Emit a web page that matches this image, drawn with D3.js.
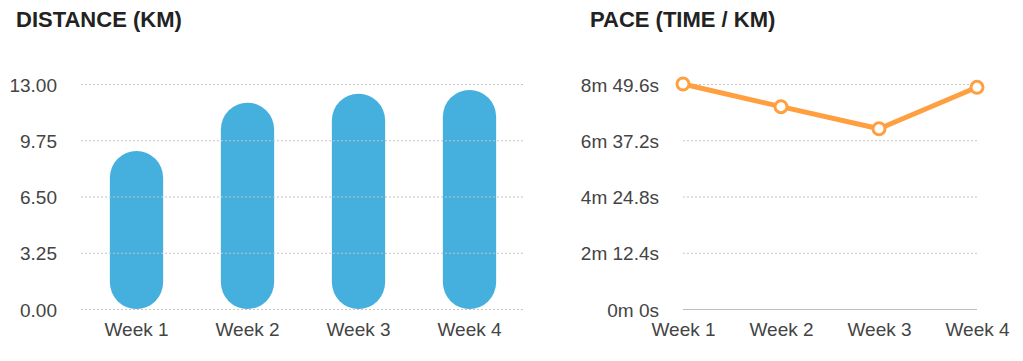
<!DOCTYPE html>
<html><head><meta charset="utf-8">
<script src="https://cdn.jsdelivr.net/npm/d3@7"></script>
<style>
html,body{margin:0;padding:0;background:#fff;}
svg{display:block;font-family:"Liberation Sans",Arial,Helvetica,sans-serif;}
</style></head>
<body>
<svg id="chart" width="1023" height="361"></svg>
<script>
const weeks = ["Week 1", "Week 2", "Week 3", "Week 4"];
const distanceKm = [9.13, 11.92, 12.44, 12.65];
const distanceTicks = [0, 3.25, 6.5, 9.75, 13];
const paceSeconds = [529.6, 476.2, 424.4, 521.8];
const paceTicks = [0, 132.4, 264.8, 397.2, 529.6];
const titles = ["DISTANCE (KM)", "PACE (TIME / KM)"];

const svg = d3.select("#chart");
const plotTop = 84, plotBottom = 309;
const tickFont = 19;

// ---------- Distance chart ----------
const g1 = svg.append("g");
g1.append("text").attr("x", 16).attr("y", 27).attr("font-size", 22).attr("font-weight", "bold")
  .attr("fill", "#222").text(titles[0]);

const x1 = d3.scaleBand().domain(weeks).range([81, 525]).paddingInner(0.52).paddingOuter(0.26);
const y1 = d3.scaleLinear().domain([0, 13]).range([plotBottom, plotTop]);

// bars
const bw = x1.bandwidth();
g1.selectAll("rect.bar").data(weeks).join("rect").attr("class", "bar")
  .attr("x", d => x1(d)).attr("width", bw)
  .attr("y", (d, i) => y1(distanceKm[i]))
  .attr("height", (d, i) => y1(0) - y1(distanceKm[i]))
  .attr("rx", bw / 2).attr("ry", bw / 2)
  .attr("fill", "#45b0de");

// grid on top
const yAxis1 = d3.axisLeft(y1).tickValues(distanceTicks).tickFormat(d3.format(".2f")).tickSize(0).tickPadding(0);
const ga1 = g1.append("g").attr("transform", "translate(57,0)").call(yAxis1);
ga1.select(".domain").remove();
ga1.selectAll("text").attr("font-size", tickFont).attr("fill", "#444").attr("font-family", null).attr("dy", "0.38em");
g1.selectAll("line.grid").data(distanceTicks).join("line").attr("class", "grid")
  .attr("x1", 81).attr("x2", 525).attr("y1", d => y1(d) + 0.5).attr("y2", d => y1(d) + 0.5)
  .attr("stroke", "#c4c4c4").attr("stroke-width", 1).attr("stroke-dasharray", "2,2");

const xAxis1 = d3.axisBottom(x1).tickSize(0).tickPadding(0);
const gx1 = g1.append("g").attr("transform", `translate(0,${plotBottom})`).call(xAxis1);
gx1.select(".domain").remove();
gx1.selectAll("text").attr("font-size", tickFont).attr("fill", "#444").attr("y", 27).attr("dy", 0).attr("font-family", null);

// ---------- Pace chart ----------
const g2 = svg.append("g");
g2.append("text").attr("x", 590).attr("y", 27).attr("font-size", 22).attr("font-weight", "bold")
  .attr("fill", "#222").text(titles[1]);

const x2 = d3.scalePoint().domain(weeks).range([683, 977]);
const y2 = d3.scaleLinear().domain([0, 529.6]).range([plotBottom, plotTop]);
const fmtPace = s => {
  const m = Math.floor(s / 60 + 1e-9);
  const sec = Math.round((s - m * 60) * 10) / 10;
  return `${m}m ${sec}s`;
};
const yAxis2 = d3.axisLeft(y2).tickValues(paceTicks).tickFormat(fmtPace).tickSize(0).tickPadding(0);
const ga2 = g2.append("g").attr("transform", "translate(659,0)").call(yAxis2);
ga2.select(".domain").remove();
ga2.selectAll("text").attr("font-size", tickFont).attr("fill", "#444").attr("font-family", null).attr("dy", "0.38em");

g2.selectAll("line.grid").data(paceTicks).join("line").attr("class", "grid")
  .attr("x1", 683).attr("x2", 977).attr("y1", d => y2(d) + 0.5).attr("y2", d => y2(d) + 0.5)
  .attr("stroke", d => d === 0 ? "#bdbdbd" : "#c4c4c4").attr("stroke-width", 1)
  .attr("stroke-dasharray", d => d === 0 ? null : "2,2");

const xAxis2 = d3.axisBottom(x2).tickSize(0).tickPadding(0);
const gx2 = g2.append("g").attr("transform", `translate(0,${plotBottom})`).call(xAxis2);
gx2.select(".domain").remove();
gx2.selectAll("text").attr("font-size", tickFont).attr("fill", "#444").attr("y", 27).attr("dy", 0).attr("font-family", null);

const line = d3.line().x((d, i) => x2(weeks[i])).y(d => y2(d));
g2.append("path").datum(paceSeconds).attr("d", line).attr("fill", "none")
  .attr("stroke", "#ff9f3f").attr("stroke-width", 5).attr("stroke-linejoin", "round");
g2.selectAll("circle").data(paceSeconds).join("circle")
  .attr("cx", (d, i) => x2(weeks[i])).attr("cy", d => y2(d)).attr("r", 6)
  .attr("fill", "#fff").attr("stroke", "#ff9f3f").attr("stroke-width", 3);
</script>
</body></html>
